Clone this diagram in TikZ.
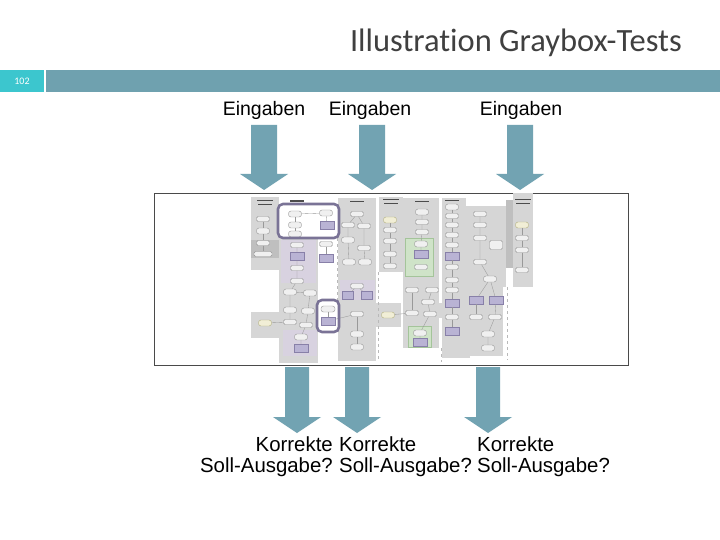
\documentclass[tikz,border=0pt]{standalone}
\usepackage{fontspec}
\setmainfont{Liberation Sans}
\newfontfamily\titlefont[Ligatures=NoCommon]{Carlito}
\definecolor{teallight}{HTML}{3CC6CE}
\definecolor{barcol}{HTML}{6FA1AF}
\definecolor{arrowcol}{HTML}{72A3B2}
\definecolor{titlecol}{HTML}{404040}
\definecolor{framecol}{HTML}{4A4A4A}
\definecolor{lanegray}{HTML}{D6D6D6}
\definecolor{lanedark}{HTML}{BFBFBF}
\definecolor{lanepurple}{HTML}{D8D2E0}
\definecolor{pbfill}{HTML}{B9B3D4}
\definecolor{pbdraw}{HTML}{8880A8}
\definecolor{greenfill}{HTML}{CFE3C8}
\definecolor{greendraw}{HTML}{A4C49A}
\definecolor{hlcol}{HTML}{7A7396}
\definecolor{yelfill}{HTML}{F1EED6}
\tikzset{
  lbl/.style={font=\fontsize{19.5}{22}\selectfont, text=black, inner sep=0pt},
  olbl/.style={font=\fontsize{20.4}{23}\selectfont, text=black, inner sep=0pt},
  bigarrow/.style={fill=arrowcol, draw=none},
  lane/.style={fill=lanegray, draw=none},
  nd/.style={draw=gray!85, fill=white!88!gray, rounded corners=1.5pt, minimum width=13pt, minimum height=5pt, inner sep=0pt, line width=0.4pt},
  ov/.style={nd, rounded corners=2.5pt, minimum height=6pt},
  yov/.style={ov, fill=yelfill, draw=gray!70!yellow},
  pbox/.style={draw=pbdraw, fill=pbfill, minimum width=14pt, minimum height=8pt, inner sep=0pt, line width=0.5pt},
  cn/.style={draw=gray!80, line width=0.35pt},
  hl/.style={draw=hlcol, line width=2.6pt, rounded corners=5pt},
  hdr/.style={draw=gray!60!black, line width=1pt},
}
\begin{document}
\begin{tikzpicture}[x=1pt,y=-1pt]
\useasboundingbox (0,0) rectangle (720,540);
\fill[white] (0,0) rectangle (720,540);
% title and bar
\node[anchor=base east, inner sep=0pt, text=titlecol, font=\titlefont\fontsize{32.5}{35}\selectfont] (title) at (682,52) {Illustration Graybox-Tests};
\fill[teallight] (0,70) rectangle (44,92);
\fill[barcol] (46,70) rectangle (720,92);
\node[text=white, font=\titlefont\fontsize{10}{11}\selectfont, inner sep=0pt] (pnum) at (22,81) {102};
% inputs
\node[lbl] (in1) at (264,110) {Eingaben};
\node[lbl] (in2) at (370,110) {Eingaben};
\node[lbl] (in3) at (521,110) {Eingaben};
% frame
\draw[framecol, line width=0.9pt, fill=white] (154,193) rectangle (628,365);
% ---------------- embedded screenshot ----------------
% lanes
\fill[lane] (251,197) rectangle (279,270);
\fill[lanedark] (251,240) rectangle (279,258);
\fill[lane] (251,312) rectangle (280,338);
\fill[lane] (279,237) rectangle (318,363);
\fill[lanepurple] (281,240) rectangle (316,283);
\fill[lanepurple] (283,330) rectangle (317,356);
\fill[lane] (338,198) rectangle (376,361);
\fill[lanepurple] (340,280) rectangle (375,300);
\fill[lane] (379,197) rectangle (403,272);
\fill[lane] (375,303) rectangle (401,327);
\fill[lane] (403,198) rectangle (439,348);
\fill[greenfill, draw=greendraw, line width=0.5pt] (405,238) rectangle (433,276);
\fill[greenfill, draw=greendraw, line width=0.5pt] (408,326) rectangle (431,347);
\fill[lane] (442,198) rectangle (470,358);
\fill[lane] (466,206) rectangle (503,356);
\fill[lane] (466,206) rectangle (506,287);
\fill[lanedark] (506,200) rectangle (513,268);
\fill[lane] (513,193) rectangle (533,287);
\fill[lane] (439,303) rectangle (503,318);
% dashed separators
\draw[gray!55, dashed, line width=0.4pt] (378,272) -- (378,361);
\draw[gray!55, dashed, line width=0.4pt] (441,348) -- (441,362);
\draw[gray!55, dashed, line width=0.4pt] (507,287) -- (507,360);
\draw[gray!55, dashed, line width=0.4pt] (337,238) -- (337,300);
% lane headers (illegible text rendered as bars)
\draw[hdr] (257,201) -- (273,201); \draw[hdr] (258,205) -- (272,205);
\draw[hdr, line width=1.4pt] (290,201) -- (304,201);
\draw[hdr] (350,202) -- (364,202);
\draw[hdr] (383,200) -- (399,200); \draw[hdr] (384,204) -- (398,204);
\draw[hdr] (415,202) -- (429,202);
\draw[hdr] (445,201) -- (459,201);
\draw[hdr, line width=1.4pt] (480,201) -- (498,201);
\draw[hdr] (515,200) -- (531,200); \draw[hdr] (516,204) -- (530,204);
% highlight 1 interior
\fill[white] (279,205) rectangle (338,237);
% nodes lane A
\node[nd] (a1) at (263,219) {};
\node[ov] (a2) at (263,231) {};
\node[nd] (a3) at (263,243) {};
\node[nd, minimum width=18pt] (a4) at (263,254) {};
\draw[cn] (a1) -- (a2) -- (a3) -- (a4);
% highlight 1 content
\node[ov] (h1) at (295,214) {};
\node[ov] (h2) at (295,225) {};
\node[ov] (h3) at (295,234) {};
\node[ov] (h4) at (326,213) {};
\node[pbox] (hp) at (327,225) {};
\draw[cn] (h1) -- (h2) -- (h3);
\draw[cn] (h1) -- (h4) -- (hp);
% lane B
\node[nd] (b1) at (297,245) {};
\node[pbox] (b2) at (297,256) {};
\node[nd] (b3) at (297,268) {};
\node[nd] (b4) at (297,281) {};
\node[ov] (b5) at (290,292) {};
\node[ov] (b6) at (310,293) {};
\node[ov] (b7) at (290,310) {};
\node[ov] (b8) at (308,311) {};
\node[nd] (b9) at (290,322) {};
\node[nd] (b10) at (306,325) {};
\node[ov] (b11) at (301,337) {};
\node[pbox] (bp) at (301,348) {};
\draw[cn] (b1) -- (b2) -- (b3) -- (b4) -- (b5) -- (b7) -- (b9);
\draw[cn] (b5) -- (b6) -- (b8) -- (b10) -- (b11) -- (bp);
% between B and C
\node[nd] (w1) at (326,244) {};
\node[pbox] (w2) at (326,258) {};
\draw[cn] (w1) -- (w2);
% lane A lower
\node[yov] (la) at (265,323) {};
\draw[cn] (la) -- (b9);
% highlight 2
\fill[white] (318,301) rectangle (338,331);
\node[ov, minimum width=14pt] (q1) at (328,309) {};
\node[pbox, minimum width=14pt] (qp) at (328,321) {};
\draw[cn] (q1) -- (qp);
% lane C
\node[nd] (c1) at (357,214) {};
\node[nd] (c2) at (348,225) {};
\node[nd] (c3) at (364,226) {};
\node[ov] (c4) at (348,240) {};
\node[nd] (c5) at (364,248) {};
\node[ov] (c6) at (349,262) {};
\node[ov] (c7) at (365,262) {};
\node[nd] (c8) at (357,286) {};
\node[pbox, minimum width=11pt] (c9) at (348,295) {};
\node[pbox, minimum width=11pt] (c10) at (367,295) {};
\node[nd] (c11) at (357,314) {};
\node[ov] (c12) at (357,334) {};
\node[ov] (c13) at (357,347) {};
\draw[cn] (c1) -- (c2) -- (c4) -- (c6);
\draw[cn] (c1) -- (c3) -- (c5) -- (c7);
\draw[cn] (c8) -- (c9); \draw[cn] (c8) -- (c10);
\draw[cn] (c11) -- (c12) -- (c13);
\draw[cn] (qp) -- (c11);
% lane D
\node[yov] (d1) at (390,220) {};
\node[nd] (d2) at (390,230) {};
\node[nd] (d3) at (390,241) {};
\node[nd] (d4) at (390,254) {};
\node[nd] (d5) at (390,266) {};
\node[yov] (d6) at (388,315) {};
\draw[cn] (d1) -- (d2) -- (d3) -- (d4) -- (d5);
% lane E
\node[ov] (e1) at (422,212) {};
\node[nd] (e2) at (422,222) {};
\node[nd] (e3) at (422,232) {};
\node[ov] (e4) at (421,244) {};
\node[pbox] (ep) at (421,254) {};
\node[nd] (e5) at (421,267) {};
\node[nd] (e6) at (412,290) {};
\node[nd] (e7) at (432,290) {};
\node[nd] (e8) at (428,302) {};
\node[nd] (e9) at (412,313) {};
\node[nd] (e10) at (430,314) {};
\node[ov] (e11) at (420,333) {};
\node[pbox] (ep2) at (420,342) {};
\draw[cn] (e1) -- (e2) -- (e3) -- (e4) -- (ep);
\draw[cn] (e6) -- (e9); \draw[cn] (e7) -- (e8) -- (e10) -- (e11) -- (ep2);
\draw[cn] (d6) -- (e9);
% lane F
\node[ov] (f1) at (452,207) {};
\node[nd] (f2) at (452,216) {};
\node[nd] (f3) at (452,225) {};
\node[nd] (f4) at (452,235) {};
\node[nd] (f5) at (452,245) {};
\node[pbox] (fp) at (452,256) {};
\node[nd] (f6) at (452,267) {};
\node[nd] (f7) at (452,280) {};
\node[nd] (f8) at (452,290) {};
\node[pbox] (fp2) at (452,303) {};
\node[nd] (f9) at (452,317) {};
\node[pbox] (fp3) at (452,331) {};
\draw[cn] (f1) -- (f2) -- (f3) -- (f4) -- (f5) -- (fp) -- (f6) -- (f7) -- (f8) -- (fp2) -- (f9) -- (fp3);
% lane G
\fill[white] (466,197) rectangle (506,206);
\node[nd] (G1) at (480,214) {};
\node[nd] (G2) at (480,225) {};
\node[nd] (G3) at (480,238) {};
\node[nd, minimum height=9pt] (G4) at (496,245) {};
\node[nd] (G5) at (480,262) {};
\node[ov] (G6) at (490,279) {};
\node[pbox] (G7) at (476,300) {};
\node[pbox] (G8) at (496,300) {};
\node[nd] (G9) at (476,317) {};
\node[nd] (G10) at (495,317) {};
\node[ov] (G11) at (488,334) {};
\node[ov] (G12) at (488,348) {};
\draw[cn] (G1) -- (G2) -- (G3) -- (G5) -- (G6);
\draw[cn] (G6) -- (G7); \draw[cn] (G6) -- (G8);
\draw[cn] (G8) -- (G10) -- (G11) -- (G12);
\draw[cn] (G7) -- (G9);
% lane H
\node[yov] (H1) at (522,225) {};
\node[nd] (H2) at (522,238) {};
\node[nd] (H3) at (522,250) {};
\node[nd] (H4) at (522,270) {};
\draw[cn] (H1) -- (H2) -- (H3) -- (H4);
% highlight frames
\draw[hl] (278,204) rectangle (339,238);
\draw[hl] (317,300) rectangle (339,332);
% ---------------- arrows ----------------
\foreach \c in {264,372,520}{
  \fill[bigarrow] ({\c-13},125) -- ({\c+13},125) -- ({\c+13},174) -- ({\c+24},174) -- (\c,190) -- ({\c-24},174) -- ({\c-13},174) -- cycle;
}
\foreach \c in {297,357,488}{
  \fill[bigarrow] ({\c-12},367) -- ({\c+12},367) -- ({\c+12},417) -- ({\c+24},417) -- (\c,433) -- ({\c-24},417) -- ({\c-12},417) -- cycle;
}
% outputs
\node[olbl, anchor=base east] (k1) at (333,451) {Korrekte};
\node[olbl, anchor=base east] (s1) at (333,472) {Soll-Ausgabe?};
\node[olbl, anchor=base west] (k2) at (339,451) {Korrekte};
\node[olbl, anchor=base west] (s2) at (339,472) {Soll-Ausgabe?};
\node[olbl, anchor=base west] (k3) at (477,451) {Korrekte};
\node[olbl, anchor=base west] (s3) at (477,472) {Soll-Ausgabe?};
\end{tikzpicture}
\end{document}
